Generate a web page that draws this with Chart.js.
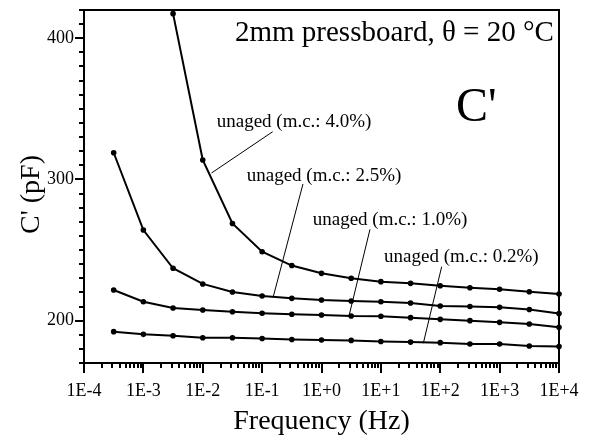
<!DOCTYPE html>
<html>
<head>
<meta charset="utf-8">
<script src="https://cdn.jsdelivr.net/npm/chart.js@4.4.1/dist/chart.umd.min.js"></script>
<style>
  html, body { margin: 0; padding: 0; background: #fff; }
</style>
</head>
<body>
<canvas id="capChart" width="589" height="439"></canvas>
<script>
// frequencies (Hz), half-decade steps
const freqs = [3.162e-4, 1e-3, 3.162e-3, 1e-2, 3.162e-2, 0.1, 0.3162, 1, 3.162, 10, 31.62, 100, 316.2, 1000, 3162, 10000];

// C' (pF) per moisture content
const mc40 = [null, null, 417.4, 313.8, 268.8, 248.8, 239.0, 233.5, 230.0, 227.6, 226.4, 224.7, 223.3, 222.2, 220.5, 218.9];
const mc25 = [318.9, 264.2, 237.1, 226.0, 220.3, 217.5, 215.8, 214.6, 213.9, 213.4, 212.5, 210.4, 210.0, 209.4, 207.9, 205.1];
const mc10 = [221.7, 213.4, 208.9, 207.5, 206.3, 205.2, 204.5, 204.0, 203.3, 203.1, 202.1, 200.9, 200.0, 198.8, 197.6, 195.3];
const mc02 = [192.2, 190.3, 189.3, 187.9, 187.9, 187.3, 186.6, 186.3, 186.0, 185.2, 184.8, 184.4, 183.5, 183.5, 182.0, 181.7];

const seriesNames = ["unaged (m.c.: 4.0%)", "unaged (m.c.: 2.5%)", "unaged (m.c.: 1.0%)", "unaged (m.c.: 0.2%)"];
const seriesValues = [mc40, mc25, mc10, mc02];

const xTickLabels = ["1E-4", "1E-3", "1E-2", "1E-1", "1E+0", "1E+1", "1E+2", "1E+3", "1E+4"];
const yTickLabels = [200, 300, 400];

const serif = "'Liberation Serif', 'Times New Roman', serif";

// where the series names and their pointer lines sit, in data units [Hz, pF]
const labelAt = [[0.01718, 336.8], [0.0550, 299.2], [0.711, 267.9], [11.3, 241.7]];
const pointers = [
  [[0.1507, 333.8], [0.01409, 304.6]],
  [[0.4875, 296.8], [0.1542, 217.0]],
  [[6.56, 264.7], [2.904, 203.3]],
  [[105.7, 238.2], [51.9, 184.0]],
];

const frame = {
  id: "frame",
  afterDraw(chart) {
    const { ctx, chartArea: a, scales: { x, y } } = chart;
    ctx.save();
    ctx.strokeStyle = "#000";
    ctx.fillStyle = "#000";

    // box + tick marks
    ctx.lineWidth = 2;
    ctx.strokeRect(a.left, a.top, a.right - a.left, a.bottom - a.top);
    ctx.beginPath();
    x.ticks.forEach((t) => {
      const px = Math.round(x.getPixelForValue(t.value));
      ctx.moveTo(px, a.bottom);
      ctx.lineTo(px, a.bottom + (t.label ? 10 : 5));
    });
    y.ticks.forEach((t) => {
      const py = Math.round(y.getPixelForValue(t.value));
      ctx.moveTo(a.left, py);
      ctx.lineTo(a.left - (t.label ? 9 : 5), py);
    });
    ctx.stroke();

    // pointer lines
    ctx.lineWidth = 1;
    ctx.beginPath();
    pointers.forEach(([p, q]) => {
      ctx.moveTo(x.getPixelForValue(p[0]), y.getPixelForValue(p[1]));
      ctx.lineTo(x.getPixelForValue(q[0]), y.getPixelForValue(q[1]));
    });
    ctx.stroke();

    // texts
    ctx.textAlign = "left";
    ctx.textBaseline = "alphabetic";
    ctx.font = "19px " + serif;
    seriesNames.forEach((name, i) => {
      ctx.fillText(name, x.getPixelForValue(labelAt[i][0]), y.getPixelForValue(labelAt[i][1]));
    });
    ctx.font = "29px " + serif;
    ctx.fillText("2mm pressboard, θ = 20 °C", x.getPixelForValue(0.0349), y.getPixelForValue(398.0));
    ctx.font = "48px " + serif;
    ctx.fillText("C'", x.getPixelForValue(184), y.getPixelForValue(341.4));

    // y axis title, sits a bit below the middle of the axis
    ctx.translate(32, (a.top + a.bottom) / 2 + 8);
    ctx.rotate(-Math.PI / 2);
    ctx.textAlign = "center";
    ctx.textBaseline = "middle";
    ctx.font = "28px " + serif;
    ctx.fillText("C' (pF)", 0, 0);
    ctx.restore();
  },
};

new Chart(document.getElementById("capChart"), {
  type: "line",
  data: {
    datasets: seriesValues.map((vals, i) => ({
      label: seriesNames[i],
      data: freqs.map((f, j) => ({ x: f, y: vals[j] })),
      borderColor: "#000",
      borderWidth: 2,
      backgroundColor: "#000",
      pointRadius: 2.8,
      pointBorderWidth: 0,
      pointBackgroundColor: "#000",
      tension: 0,
      clip: false,
    })),
  },
  options: {
    responsive: false,
    animation: false,
    devicePixelRatio: 1,
    layout: { padding: { top: 10, right: 30, left: 0, bottom: 0 } },
    plugins: { legend: { display: false }, tooltip: { enabled: false } },
    scales: {
      x: {
        type: "logarithmic",
        min: 1e-4,
        max: 1e4,
        grid: { display: false, drawTicks: false },
        border: { display: false },
        ticks: {
          color: "#000",
          font: { family: serif, size: 18 },
          padding: 17,
          autoSkip: false,
          maxRotation: 0,
          minRotation: 0,
          callback: (v) => xTickLabels.find((l) => Number(l) === v) || "",
        },
        afterBuildTicks: (s) => {
          const ticks = [];
          xTickLabels.forEach((l, i) => {
            const dec = Number(l);
            ticks.push({ value: dec });
            if (i < xTickLabels.length - 1) {
              for (let m = 2; m <= 9; m++) ticks.push({ value: dec * m });
            }
          });
          s.ticks = ticks;
        },
        afterFit: (s) => {
          s.height = 76;
          s.paddingLeft = 0;
          s.paddingRight = 0;
        },
        title: {
          display: true,
          text: "Frequency (Hz)",
          color: "#000",
          font: { family: serif, size: 28 },
          padding: { top: 0, bottom: 1 },
        },
      },
      y: {
        type: "linear",
        min: 170,
        max: 420,
        grid: { display: false, drawTicks: false },
        border: { display: false },
        ticks: {
          color: "#000",
          font: { family: serif, size: 18 },
          padding: 10,
          autoSkip: false,
          callback: (v) => (yTickLabels.includes(v) ? String(v) : ""),
        },
        afterBuildTicks: (s) => {
          const ticks = [];
          for (let v = 170; v <= 420; v += 10) ticks.push({ value: v });
          s.ticks = ticks;
        },
        afterFit: (s) => {
          s.width = 84;
          s.paddingTop = 0;
          s.paddingBottom = 0;
        },
      },
    },
  },
  plugins: [frame],
});
</script>
</body>
</html>
